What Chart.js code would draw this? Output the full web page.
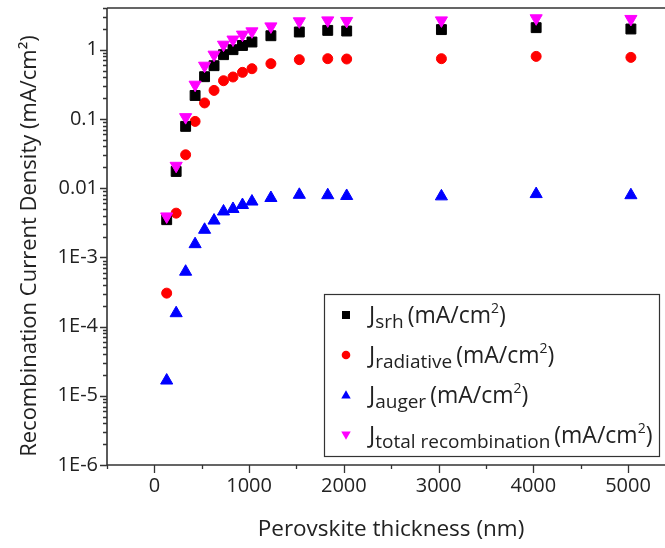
<!DOCTYPE html>
<html lang="en">
<head>
<meta charset="UTF-8">
<title>Recombination Current Density vs Perovskite Thickness</title>
<script src="https://cdn.jsdelivr.net/npm/chart.js"></script>
<style>
  body { margin: 0; background: #fff; }
</style>
</head>
<body>
<canvas id="recombChart" width="665" height="548"></canvas>
<script>
  // perovskite thickness (nm)
  var thickness = [130, 230, 330, 430, 530, 630, 730, 830, 930, 1030, 1230, 1530, 1830, 2030, 3030, 4030, 5030];

  // recombination current densities (mA/cm2)
  var jSrh = [0.0035, 0.0174, 0.078, 0.218, 0.407, 0.587, 0.847, 1.0, 1.15, 1.29, 1.59, 1.80, 1.90, 1.86, 1.95, 2.08, 1.99];
  var jRadiative = [0.000304, 0.00435, 0.0303, 0.092, 0.170, 0.258, 0.356, 0.403, 0.47, 0.531, 0.628, 0.717, 0.741, 0.733, 0.741, 0.80, 0.774];
  var jAuger = [1.66e-5, 1.56e-4, 6.2e-4, 1.55e-3, 2.5e-3, 3.4e-3, 4.6e-3, 5.0e-3, 5.7e-3, 6.4e-3, 7.2e-3, 8.0e-3, 7.9e-3, 7.7e-3, 7.6e-3, 8.2e-3, 7.9e-3];
  var jTotal = [0.0039, 0.021, 0.106, 0.312, 0.587, 0.847, 1.18, 1.40, 1.65, 1.84, 2.17, 2.57, 2.65, 2.60, 2.65, 2.84, 2.78];

  var xTicks = [0, 1000, 2000, 3000, 4000, 5000];
  var yTicks = [1e-6, 1e-5, 1e-4, 1e-3, 0.01, 0.1, 1];
  var yTickLabels = ['1E-6', '1E-5', '1E-4', '1E-3', '0.01', '0.1', '1'];

  var legendSubs = ['srh', 'radiative', 'auger', 'total recombination'];
  var unitText = '(mA/cm';

  var FONT = "'Open Sans', sans-serif";
  var INK = '#222';

  function toPoints(arr) {
    return thickness.map(function (t, i) { return { x: t, y: arr[i] }; });
  }

  // marker drawing used by the legend box
  function drawMarker(ctx, style, x, y, r) {
    ctx.beginPath();
    if (style === 'rect') {
      ctx.rect(x - r, y - r, 2 * r, 2 * r);
    } else if (style === 'circle') {
      ctx.arc(x, y, r, 0, Math.PI * 2);
    } else if (style === 'up') {
      ctx.moveTo(x, y - r * 1.1);
      ctx.lineTo(x + r * 1.1, y + r * 0.8);
      ctx.lineTo(x - r * 1.1, y + r * 0.8);
      ctx.closePath();
    } else {
      ctx.moveTo(x, y + r * 1.1);
      ctx.lineTo(x + r * 1.1, y - r * 0.8);
      ctx.lineTo(x - r * 1.1, y - r * 0.8);
      ctx.closePath();
    }
    ctx.fill();
  }

  var framePlugin = {
    id: 'frame',
    afterDraw: function (chart) {
      var ctx = chart.ctx;
      var area = chart.chartArea;
      var xs = chart.scales.x;
      var ys = chart.scales.y;
      ctx.save();

      // axes and top border
      ctx.strokeStyle = '#333';
      ctx.lineWidth = 1.6;
      ctx.beginPath();
      ctx.moveTo(area.left, area.top);
      ctx.lineTo(area.right, area.top);
      ctx.moveTo(area.left, area.top);
      ctx.lineTo(area.left, area.bottom);
      ctx.lineTo(area.right, area.bottom);
      ctx.stroke();

      // x tick marks, major every 1000, minor every 500
      ctx.lineWidth = 1.3;
      ctx.beginPath();
      for (var v = xs.min; v <= xs.max; v += 500) {
        var px = Math.round(xs.getPixelForValue(v)) + 0.5;
        var len = (v % 1000 === 0) ? 8 : 4;
        ctx.moveTo(px, area.bottom);
        ctx.lineTo(px, area.bottom + len);
      }
      // y tick marks, decades and 2..9 in between
      yTicks.forEach(function (d) {
        for (var k = 1; k <= 9; k++) {
          var val = d * k;
          if (val > ys.max) break;
          var py = Math.round(ys.getPixelForValue(val)) + 0.5;
          var l = (k === 1) ? 7 : 4;
          ctx.moveTo(area.left, py);
          ctx.lineTo(area.left - l, py);
        }
      });
      ctx.stroke();

      // axis titles
      ctx.fillStyle = INK;
      ctx.font = '22px ' + FONT;
      ctx.textAlign = 'center';
      ctx.textBaseline = 'middle';
      ctx.save();
      ctx.font = '22.5px ' + FONT;
      ctx.fillText('Perovskite thickness (nm)', 391, 530);
      ctx.restore();
      ctx.save();
      ctx.translate(30, 246);
      ctx.rotate(-Math.PI / 2);
      ctx.fillText('Recombination Current Density (mA/cm\u00B2)', 0, 0);
      ctx.restore();

      // legend box
      var bx = 324, by = 294, bw = 335, bh = 162;
      ctx.fillStyle = '#fff';
      ctx.fillRect(bx, by, bw, bh);
      ctx.strokeStyle = '#333';
      ctx.lineWidth = 1.2;
      ctx.strokeRect(bx + 0.5, by + 0.5, bw, bh);

      var styles = ['rect', 'circle', 'up', 'down'];
      var order = [1, 2, 3, 0];
      ctx.textAlign = 'left';
      ctx.textBaseline = 'alphabetic';
      legendSubs.forEach(function (sub, i) {
        var ds = chart.data.datasets[order[i]];
        var cy = 315 + i * 40;
        var base = cy + 8;
        ctx.fillStyle = ds.backgroundColor;
        drawMarker(ctx, styles[i], 346, cy, styles[i] === 'rect' ? 4 : 4.3);

        ctx.fillStyle = INK;
        var x = 369;
        ctx.font = '23px ' + FONT;
        ctx.fillText('J', x, base);
        x += ctx.measureText('J').width;
        ctx.font = '19px ' + FONT;
        ctx.fillText(sub, x, base + 5);
        x += ctx.measureText(sub).width + 4;
        ctx.font = '23px ' + FONT;
        ctx.fillText(unitText, x, base);
        x += ctx.measureText(unitText).width;
        ctx.font = '14px ' + FONT;
        ctx.fillText('2', x, base - 10);
        x += ctx.measureText('2').width;
        ctx.font = '23px ' + FONT;
        ctx.fillText(')', x, base);
      });

      ctx.restore();
    }
  };

  var ctx = document.getElementById('recombChart').getContext('2d');
  var recombChart = new Chart(ctx, {
    type: 'scatter',
    data: {
      datasets: [
        {
          label: 'J total recombination',
          data: toPoints(jTotal),
          pointStyle: 'triangle',
          rotation: 180,
          pointRadius: 7,
          backgroundColor: '#ff00ff',
          borderColor: '#ff00ff',
          borderWidth: 1,
          order: 0
        },
        {
          label: 'J srh',
          data: toPoints(jSrh),
          pointStyle: 'rect',
          pointRadius: 7,
          backgroundColor: '#000000',
          borderColor: '#000000',
          borderWidth: 1,
          order: 1
        },
        {
          label: 'J radiative',
          data: toPoints(jRadiative),
          pointStyle: 'circle',
          pointRadius: 5,
          backgroundColor: '#ff0000',
          borderColor: '#ff0000',
          borderWidth: 1,
          order: 2
        },
        {
          label: 'J auger',
          data: toPoints(jAuger),
          pointStyle: 'triangle',
          pointRadius: 7,
          backgroundColor: '#0000ff',
          borderColor: '#0000ff',
          borderWidth: 1,
          order: 3
        }
      ]
    },
    options: {
      responsive: false,
      animation: false,
      devicePixelRatio: 1,
      layout: { autoPadding: false, padding: { top: 8, right: 0, bottom: 0, left: 0 } },
      plugins: {
        legend: { display: false },
        tooltip: { enabled: false }
      },
      scales: {
        x: {
          type: 'linear',
          min: -500,
          max: 5390,
          grid: { display: false, drawTicks: false },
          border: { display: false },
          afterBuildTicks: function (scale) {
            scale.ticks = xTicks.map(function (v) { return { value: v }; });
          },
          afterFit: function (scale) {
            scale.height = 83;
            scale.paddingLeft = 0;
            scale.paddingRight = 0;
          },
          ticks: {
            color: INK,
            font: { family: FONT, size: 20 },
            padding: 9,
            maxRotation: 0,
            autoSkip: false,
            callback: function (value) { return String(value); }
          }
        },
        y: {
          type: 'logarithmic',
          min: 1e-6,
          max: 4,
          grid: { display: false, drawTicks: false },
          border: { display: false },
          afterBuildTicks: function (scale) {
            scale.ticks = yTicks.map(function (v) { return { value: v }; });
          },
          afterFit: function (scale) {
            scale.width = 107;
            scale.paddingTop = 0;
            scale.paddingBottom = 0;
          },
          ticks: {
            color: INK,
            font: { family: FONT, size: 20 },
            padding: 9,
            autoSkip: false,
            callback: function (value, index) { return yTickLabels[index]; }
          }
        }
      }
    },
    plugins: [framePlugin]
  });
</script>
</body>
</html>
